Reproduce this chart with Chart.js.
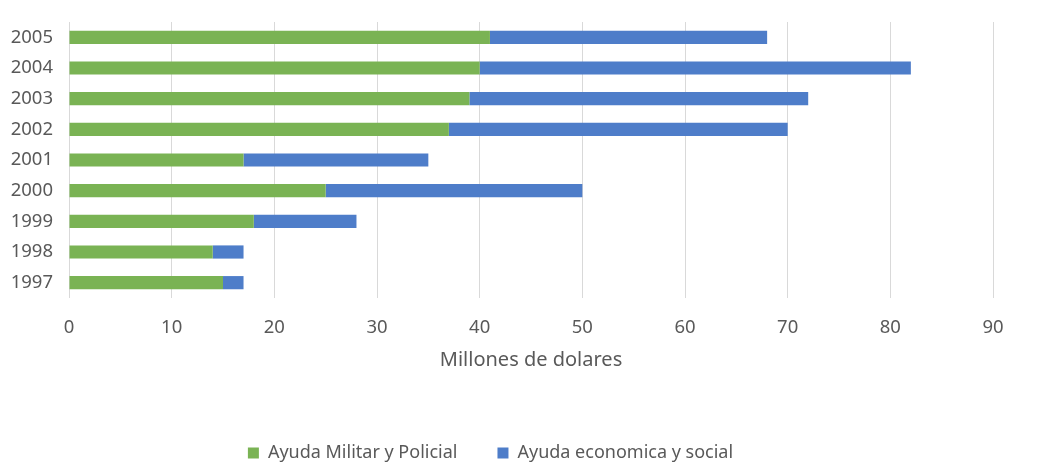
<!DOCTYPE html>
<html>
<head>
<meta charset="utf-8">
<script src="https://cdn.jsdelivr.net/npm/chart.js@4/dist/chart.umd.min.js"></script>
<style>
  html, body { margin: 0; padding: 0; background: #fff; }
  #wrap { width: 1041px; height: 464px; }
</style>
</head>
<body>
<div id="wrap"><canvas id="myBarChart"></canvas></div>
<script>
const years = ["2005", "2004", "2003", "2002", "2001", "2000", "1999", "1998", "1997"];
const militar = [41, 40, 39, 37, 17, 25, 18, 14, 15];
const economica = [27, 42, 33, 33, 18, 25, 10, 3, 2];

const textColor = "#595959";
const fontFamily = "'Noto Sans', 'Open Sans', sans-serif";

// moves the legend to where the reference has it
const legendShift = {
  id: "legendShift",
  afterLayout(chart) {
    const l = chart.legend;
    const dy = 453 - (l.top + l.options.labels.padding + 9);
    l.top += dy;
    l.bottom += dy;
    l.left -= 6;
    l.right -= 6;
  }
};

const ctx1 = document.getElementById("myBarChart");

new Chart(ctx1, {
  type: "bar",
  data: {
    labels: years,
    datasets: [
      {
        label: "Ayuda Militar y Policial",
        data: militar,
        backgroundColor: "#7ab354",
        borderWidth: 0,
        categoryPercentage: 1,
        barPercentage: 0.43,
      },
      {
        label: "Ayuda economica y social",
        data: economica,
        backgroundColor: "#4e7dc9",
        borderWidth: 0,
        categoryPercentage: 1,
        barPercentage: 0.43,
      },
    ],
  },
  plugins: [legendShift],
  options: {
    responsive: true,
    maintainAspectRatio: false,
    animation: false,
    indexAxis: "y",
    layout: {
      padding: { left: 0, right: 48, top: 22, bottom: 20 }
    },
    plugins: {
      legend: {
        position: "bottom",
        labels: {
          color: textColor,
          boxWidth: 11,
          boxHeight: 11,
          padding: 40,
          font: { size: 18, family: fontFamily },
        },
      },
      tooltip: { enabled: false },
    },
    scales: {
      x: {
        stacked: true,
        min: 0,
        max: 90,
        afterFit(scale) { scale.height = 78; },
        ticks: {
          stepSize: 10,
          color: textColor,
          padding: 19,
          font: { size: 18.5, family: fontFamily },
        },
        grid: {
          color: "#d9d9d9",
          drawTicks: false,
        },
        border: { display: false },
        title: {
          display: true,
          text: "Millones de dolares",
          color: textColor,
          padding: { top: 4, bottom: 4 },
          font: { size: 20, family: fontFamily },
        },
      },
      y: {
        stacked: true,
        afterFit(scale) {
          scale.width = 69;
          scale.paddingTop = 0;
          scale.paddingBottom = 0;
        },
        ticks: {
          color: textColor,
          padding: 16,
          font: { size: 18.5, family: fontFamily },
        },
        grid: { display: false, drawTicks: false },
        border: { display: false },
      },
    },
  },
});
</script>
</body>
</html>
